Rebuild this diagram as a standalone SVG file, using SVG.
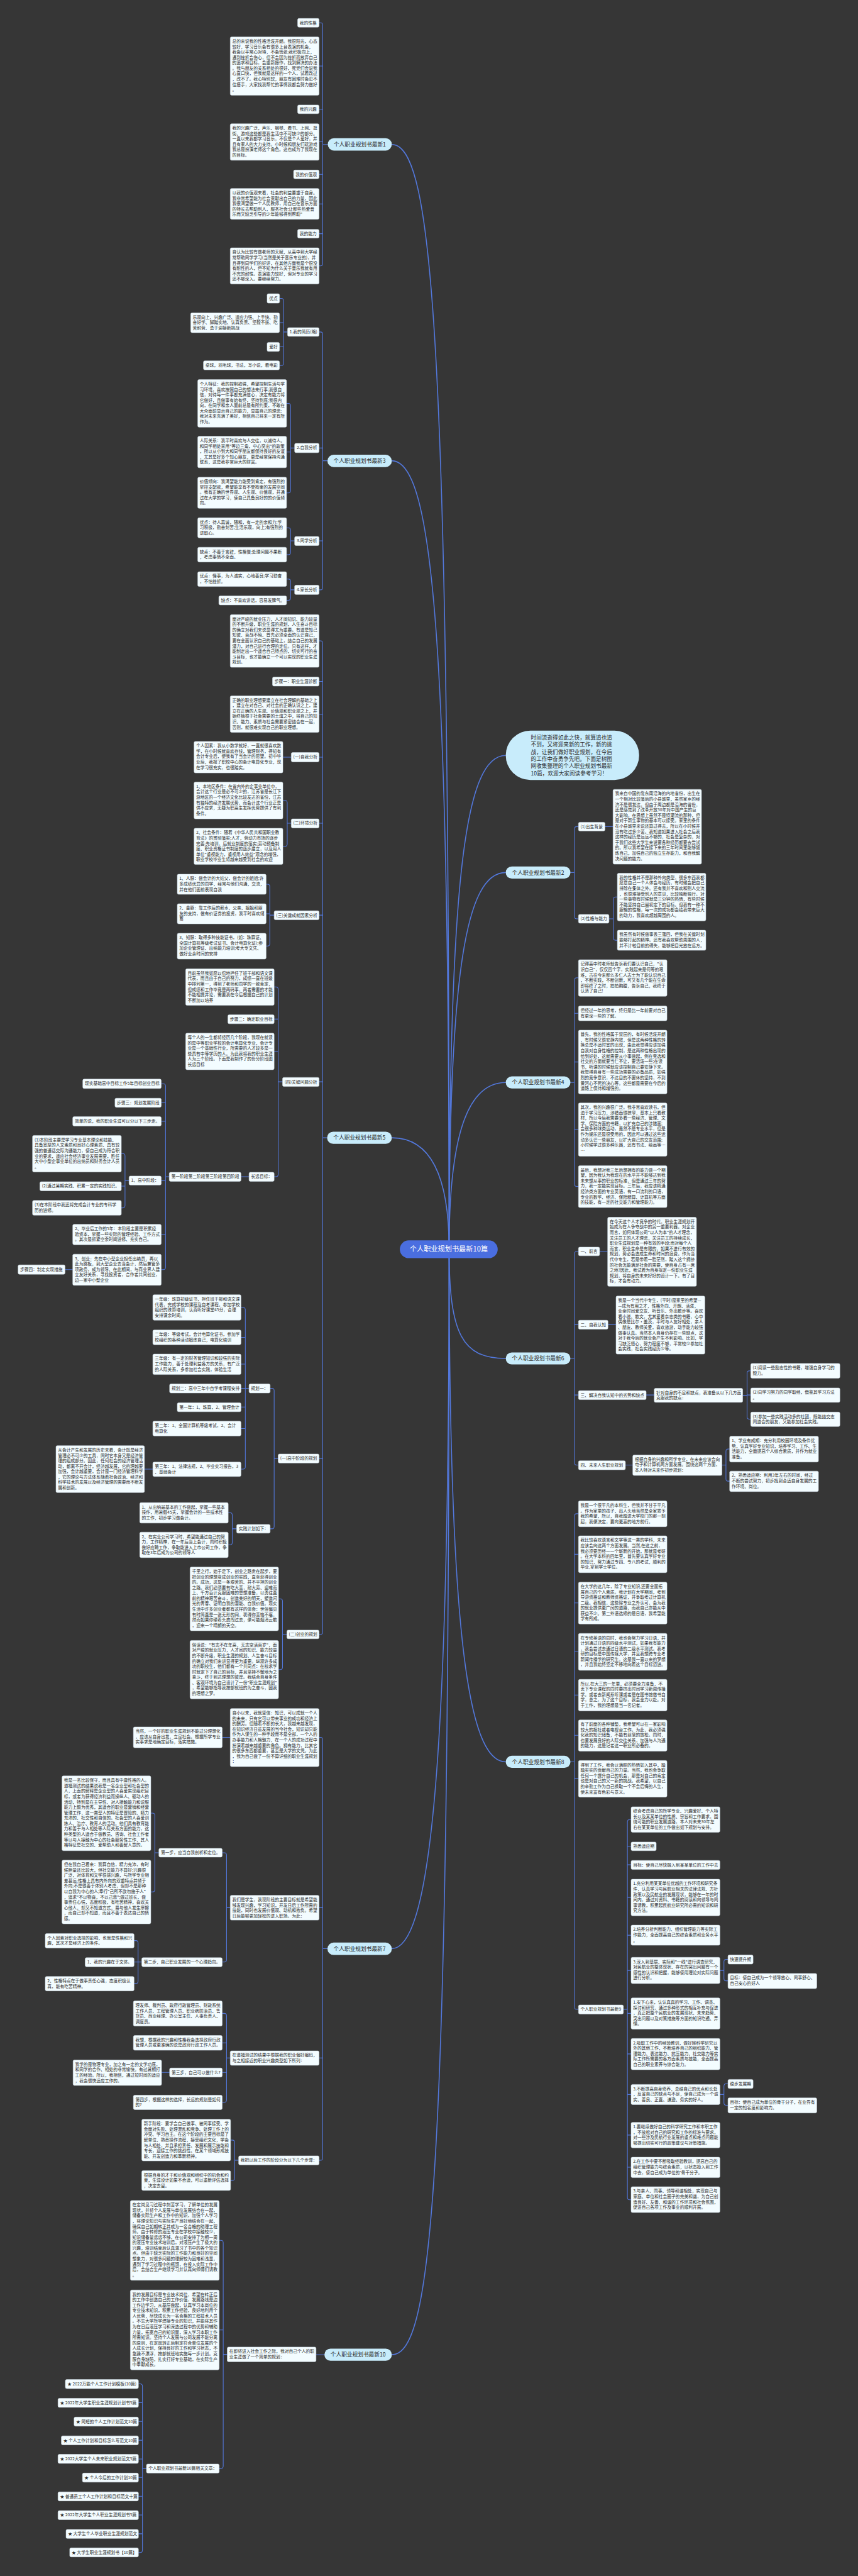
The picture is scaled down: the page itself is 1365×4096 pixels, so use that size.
<svg xmlns="http://www.w3.org/2000/svg" width="1365" height="4096" viewBox="0 0 1365 4096">
<style>
.t{font-family:"Noto Sans CJK SC","Noto Sans",sans-serif;font-size:12.7px;fill:#2b2b2b}
.b{fill:#f3fcff;stroke:#cfdde6;stroke-width:1}
.p{fill:#c8ecfb}
.pt{font-family:"Noto Sans CJK SC","Noto Sans",sans-serif;font-size:16.3px;fill:#2b2b2b;text-anchor:middle}
.c{fill:none;stroke:#5378dc;stroke-width:2}
.m{fill:none;stroke:#5378dc;stroke-width:3}
</style>
<rect x="0" y="0" width="1365" height="4096" fill="#363636"/>
<g transform="scale(0.533203)">
<g id="connectors">
<path class="m" d="M1340 3726C1340 1000 1290 431 1169 431"/>
<path class="m" d="M1340 3726C1340 1900 1290 1374 1169 1374"/>
<path class="m" d="M1340 3726C1340 3500 1280 3393 1169 3393"/>
<path class="m" d="M1340 3726C1340 5200 1290 5811 1169 5811"/>
<path class="m" d="M1340 3726C1340 6500 1290 7022 1169 7022"/>
<path class="m" d="M1340 3726C1340 2600 1390 2253 1509 2253"/>
<path class="m" d="M1340 3726C1340 2900 1390 2602 1509 2602"/>
<path class="m" d="M1340 3726C1340 3400 1390 3228 1509 3228"/>
<path class="m" d="M1340 3726C1340 3980 1380 4051 1509 4051"/>
<path class="m" d="M1340 3726C1340 4900 1400 5254 1509 5254"/>
<path class="c" d="M952 68H956Q963 68 963 75V786Q963 793 956 793H952M963 197H952M963 326H952M963 423H952M963 520H952M963 608H952M963 697H952M978 431H963"/>
<path class="c" d="M952 990H956Q963 990 963 997V1752Q963 1759 956 1759H952M963 1336H952M963 1613H952M977 1374H963"/>
<path class="c" d="M834 890H839Q846 890 846 897V1083Q846 1090 839 1090H834M846 962H834M846 1034H834M858 990H846"/>
<path class="c" d="M855 1203H860Q867 1203 867 1210V1463Q867 1470 860 1470H855M867 1348H855M879 1336H867"/>
<path class="c" d="M855 1574H860Q867 1574 867 1581V1647Q867 1654 860 1654H855M879 1613H867"/>
<path class="c" d="M855 1727H860Q867 1727 867 1734V1783Q867 1790 860 1790H855M879 1759H867"/>
<path class="c" d="M952 1911H956Q963 1911 963 1918V4867Q963 4874 956 4874H952M963 2032H952M963 2130H952M963 2258H952M963 2455H952M963 2729H952M963 3226H952M963 4349H952M976 3393H963"/>
<path class="c" d="M869 2258H844"/>
<path class="c" d="M844 2387H850Q857 2387 857 2394V2517Q857 2524 850 2524H844M869 2455H857"/>
<path class="c" d="M794 2637H798Q805 2637 805 2644V2814Q805 2821 798 2821H794M805 2725H794M818 2729H805"/>
<path class="c" d="M818 2943H823Q830 2943 830 2950V3502Q830 3509 823 3509H818M830 3039H818M830 3135H818M843 3226H830M743 3509H719"/>
<path class="c" d="M481 3232H487Q494 3232 494 3239V3779Q494 3786 487 3786H481M494 3288H481M494 3344H481M494 3520H481M494 3681H481M505 3509H494"/>
<path class="c" d="M362 3440H366Q373 3440 373 3447V3595Q373 3602 366 3602H362M373 3537H362M385 3520H373M217 3786H194"/>
<path class="c" d="M806 4140H811Q818 4140 818 4147V4552Q818 4559 811 4559H806M830 4349H818"/>
<path class="c" d="M719 3899H725Q732 3899 732 3906V4374Q732 4381 725 4381H719M732 3988H719M732 4068H719M732 4140H719M732 4196H719M732 4260H719M743 4140H732M456 4381H431"/>
<path class="c" d="M681 4511H686Q693 4511 693 4518V4600Q693 4607 686 4607H681M706 4559H693"/>
<path class="c" d="M831 4768H836Q843 4768 843 4775V4972Q843 4979 836 4979H831M856 4874H843"/>
<path class="c" d="M952 5181H956Q963 5181 963 5188V6435Q963 6442 956 6442H952M963 5689H952M963 6137H952M977 5811H963M687 5181H663"/>
<path class="c" d="M663 5525H669Q676 5525 676 5532V5844Q676 5851 669 5851H663M687 5689H676"/>
<path class="c" d="M450 5407H455Q462 5407 462 5414V5635Q462 5642 455 5642H450M474 5525H462"/>
<path class="c" d="M400 5787H405Q412 5787 412 5794V5908Q412 5915 405 5915H400M412 5851H400M423 5851H412"/>
<path class="c" d="M663 6004H669Q676 6004 676 6011V6262Q676 6269 669 6269H663M676 6092H663M676 6180H663M687 6137H676M506 6180H482"/>
<path class="c" d="M688 6382H693Q700 6382 700 6389V6495Q700 6502 693 6502H688M712 6442H700"/>
<path class="c" d="M968 7022H943"/>
<path class="c" d="M654 6681H659Q666 6681 666 6688V7354Q666 7361 659 7361H654M666 6948H654M678 7021H666"/>
<path class="c" d="M413 7109H418Q425 7109 425 7116V7605Q425 7612 418 7612H413M425 7165H413M425 7221H413M425 7277H413M425 7333H413M425 7388H413M425 7444H413M425 7500H413M425 7556H413M437 7361H425"/>
<path class="c" d="M1726 2465H1721Q1714 2465 1714 2472V2733Q1714 2740 1721 2740H1726M1702 2602H1714M1805 2465H1829"/>
<path class="c" d="M1842 2675H1837Q1830 2675 1830 2682V2797Q1830 2804 1837 2804H1842M1817 2740H1830"/>
<path class="c" d="M1726 2916H1721Q1714 2916 1714 2923V3531Q1714 3538 1721 3538H1726M1714 3022H1726M1714 3167H1726M1714 3368H1726M1702 3228H1714"/>
<path class="c" d="M1726 3732H1721Q1714 3732 1714 3739V4362Q1714 4369 1721 4369H1726M1714 3950H1726M1714 4160H1726M1702 4051H1714M1789 3732H1813M1814 3950H1838M1928 4160H1952M1866 4369H1888"/>
<path class="c" d="M2240 4088H2236Q2229 4088 2229 4095V4225Q2229 4232 2236 4232H2240M2229 4160H2240M2216 4161H2229"/>
<path class="c" d="M2177 4321H2173Q2166 4321 2166 4328V4410Q2166 4417 2173 4417H2177M2154 4369H2166"/>
<path class="c" d="M1726 4514H1721Q1714 4514 1714 4521V5985Q1714 5992 1721 5992H1726M1714 4635H1726M1714 4780H1726M1714 4926H1726M1714 5055H1726M1714 5175H1726M1714 5304H1726M1702 5254H1714"/>
<path class="c" d="M1883 5426H1879Q1872 5426 1872 5433V6553Q1872 6560 1879 6560H1883M1872 5506H1883M1872 5561H1883M1872 5658H1883M1872 5771H1883M1872 5876H1883M1872 6004H1883M1872 6125H1883M1872 6246H1883M1872 6367H1883M1872 6463H1883M1860 5992H1872"/>
<path class="c" d="M2172 5843H2167Q2160 5843 2160 5850V5900Q2160 5907 2167 5907H2172M2148 5876H2160"/>
<path class="c" d="M2172 6214H2167Q2160 6214 2160 6221V6271Q2160 6278 2167 6278H2172M2148 6246H2160"/>
</g>

<g id="root"><rect x="1193" y="3699" width="292" height="53" rx="26.5" fill="#4a6ee0"/><text x="1339" y="3733" font-family="Noto Sans CJK SC, Noto Sans, sans-serif" font-size="21" fill="#ffffff" text-anchor="middle">个人职业规划书最新10篇</text></g>

<g id="intro"><rect class="p" x="1509" y="2179" width="398" height="147" rx="73.5"/><text font-family="Noto Sans CJK SC, Noto Sans, sans-serif" font-size="16.2" fill="#2b2b2b" x="1584" y="2205"><tspan x="1584">时间流逝得如此之快，就算追也追</tspan><tspan x="1584" dy="21.4">不到，又将迎来新的工作，新的挑</tspan><tspan x="1584" dy="21.4">战，让我们做好职业规划，在今后</tspan><tspan x="1584" dy="21.4">的工作中奋勇争先吧。下面是树图</tspan><tspan x="1584" dy="21.4">网收集整理的个人职业规划书最新</tspan><tspan x="1584" dy="21.4">10篇，欢迎大家阅读参考学习！</tspan></text></g>

<g id="n1"><rect class="p" x="978" y="412" width="191" height="37" rx="18.5"/><text class="pt" x="1073.5" y="436.5">个人职业规划书最新1</text></g>
<g id="n3"><rect class="p" x="977" y="1356" width="192" height="37" rx="18.5"/><text class="pt" x="1073" y="1380">个人职业规划书最新3</text></g>
<g id="n5"><rect class="p" x="976" y="3375" width="193" height="36" rx="18"/><text class="pt" x="1072.5" y="3399">个人职业规划书最新5</text></g>
<g id="n7"><rect class="p" x="977" y="5793" width="192" height="37" rx="18.5"/><text class="pt" x="1073" y="5817">个人职业规划书最新7</text></g>
<g id="n10"><rect class="p" x="968" y="7004" width="201" height="36" rx="18"/><text class="pt" x="1068.5" y="7028">个人职业规划书最新10</text></g>
<g id="n2"><rect class="p" x="1509" y="2584" width="193" height="36" rx="18"/><text class="pt" x="1605.5" y="2608">个人职业规划书最新2</text></g>
<g id="n4"><rect class="p" x="1509" y="3210" width="193" height="36" rx="18"/><text class="pt" x="1605.5" y="3234">个人职业规划书最新4</text></g>
<g id="n6"><rect class="p" x="1509" y="4033" width="193" height="36" rx="18"/><text class="pt" x="1605.5" y="4057">个人职业规划书最新6</text></g>
<g id="n8"><rect class="p" x="1509" y="5236" width="193" height="36" rx="18"/><text class="pt" x="1605.5" y="5260">个人职业规划书最新8</text></g>

<g id="n1-1"><rect class="b" x="888" y="55" width="64" height="26" rx="4"/><text class="t" x="894" y="73">我的性格</text></g>
<g id="n1-2"><rect class="b" x="687" y="110" width="265" height="174" rx="4"/><text class="t" x="693" y="127.5"><tspan x="693">总的来说我的性格活泼开朗。我很阳光，心态</tspan><tspan x="693" dy="16.1">较好，学习音乐会有很多上台表演的机会，</tspan><tspan x="693" dy="16.1">我会以平常心对待，不会慌张;我积极向上，</tspan><tspan x="693" dy="16.1">遇到挫折会伤心，但不会因为挫折而放弃自己</tspan><tspan x="693" dy="16.1">的追求和目标，会重新振作，找到解决的办法</tspan><tspan x="693" dy="16.1">。我与朋友的关系相处的很好，死党们会说我</tspan><tspan x="693" dy="16.1">心直口快，但我就是这样的一个人，试着改过</tspan><tspan x="693" dy="16.1">，改不了。我心特别软，朋友有困难时会忍不</tspan><tspan x="693" dy="16.1">住搭手，大家找我帮忙的事情我都会努力做好</tspan><tspan x="693" dy="16.1">。</tspan></text></g>
<g id="n1-3"><rect class="b" x="888" y="313" width="64" height="26" rx="4"/><text class="t" x="894" y="330.5">我的兴趣</text></g>
<g id="n1-4"><rect class="b" x="687" y="369" width="265" height="109" rx="4"/><text class="t" x="693" y="386.5"><tspan x="693">我的兴趣广泛，声乐、钢琴、看书、上网、逛</tspan><tspan x="693" dy="16.1">街、游戏这些都是我生活中不可缺少的部分。</tspan><tspan x="693" dy="16.1">一直以来我都学习音乐，不仅是个人爱好，并</tspan><tspan x="693" dy="16.1">且有家人的大力支持。小时候和朋友们玩游戏</tspan><tspan x="693" dy="16.1">我总是扮演老师这个角色。这也成为了我现在</tspan><tspan x="693" dy="16.1">的目标。</tspan></text></g>
<g id="n1-5"><rect class="b" x="876" y="507" width="76" height="26" rx="4"/><text class="t" x="882" y="524.5">我的价值观</text></g>
<g id="n1-6"><rect class="b" x="687" y="562" width="265" height="92" rx="4"/><text class="t" x="693" y="579.5"><tspan x="693">以我的价值观来看，社会的利益要重于自身。</tspan><tspan x="693" dy="16.1">我非常希望能为社会贡献出自己的力量，因此</tspan><tspan x="693" dy="16.1">我很渴望做一个人民教师，用自己在音乐方面</tspan><tspan x="693" dy="16.1">的特长去帮助别人，服务社会;让那些热爱音</tspan><tspan x="693" dy="16.1">乐而又缺乏引导的少年能够得到帮助"</tspan></text></g>
<g id="n1-7"><rect class="b" x="888" y="684" width="64" height="26" rx="4"/><text class="t" x="894" y="701.5">我的能力</text></g>
<g id="n1-8"><rect class="b" x="687" y="739" width="265" height="108" rx="4"/><text class="t" x="693" y="756.5"><tspan x="693">自认为比较有做老师的天赋，从高中到大学经</tspan><tspan x="693" dy="16.1">常帮助同学学习(当然是关于音乐专业的)，并</tspan><tspan x="693" dy="16.1">且得到同学们的好评，在其他方面我是个很没</tspan><tspan x="693" dy="16.1">有耐性的人，但不知为什么关于音乐我就有用</tspan><tspan x="693" dy="16.1">不完的耐性。表演能力较好，但对专业的学习</tspan><tspan x="693" dy="16.1">还不够深入。要继续努力。</tspan></text></g>

<g id="n3-1"><rect class="b" x="858" y="977" width="94" height="26" rx="4"/><text class="t" x="864" y="994.5">1.我的简历(略)</text></g>
<g id="n3-1-1"><rect class="b" x="797" y="876" width="37" height="28" rx="4"/><text class="t" x="803" y="894">优点</text></g>
<g id="n3-1-2"><rect class="b" x="569" y="933" width="265" height="59" rx="4"/><text class="t" x="575" y="950.5"><tspan x="575">乐观向上、兴趣广泛、适应力强、上手快、勤</tspan><tspan x="575" dy="16.1">奋好学、脚踏实地、认真负责、坚毅不拔、吃</tspan><tspan x="575" dy="16.1">苦耐劳、勇于迎接新挑战</tspan></text></g>
<g id="n3-1-3"><rect class="b" x="797" y="1021" width="37" height="27" rx="4"/><text class="t" x="803" y="1038.5">爱好</text></g>
<g id="n3-1-4"><rect class="b" x="607" y="1076" width="227" height="27" rx="4"/><text class="t" x="613" y="1093.5">桌球，羽毛球，书法，写小说，看电影</text></g>
<g id="n3-2"><rect class="b" x="879" y="1322" width="73" height="28" rx="4"/><text class="t" x="885" y="1340">2.自我分析</text></g>
<g id="n3-2-1"><rect class="b" x="590" y="1132" width="265" height="142" rx="4"/><text class="t" x="596" y="1149.5"><tspan x="596">个人特征：我的控制欲强，希望控制生活与学</tspan><tspan x="596" dy="16.1">习环境，喜欢按照自己的想法来行事;我很自</tspan><tspan x="596" dy="16.1">信，对待每一件事都充满信心，决定有能力将</tspan><tspan x="596" dy="16.1">它做好，且做事有始有终，坚持到底;我很内</tspan><tspan x="596" dy="16.1">向，在同学和亲人面前总是有所约束，不敢在</tspan><tspan x="596" dy="16.1">大众面前显示自己的能力，显露自己的理念;</tspan><tspan x="596" dy="16.1">我对未来充满了美好，相信自己将来一定有所</tspan><tspan x="596" dy="16.1">作为。</tspan></text></g>
<g id="n3-2-2"><rect class="b" x="590" y="1301" width="265" height="94" rx="4"/><text class="t" x="596" y="1318.5"><tspan x="596">人际关系：我平时喜欢与人交往，以诚待人。</tspan><tspan x="596" dy="16.1">和同学相处采用"等边三角，中心突出"的政策</tspan><tspan x="596" dy="16.1">，所以从小到大和同学朋友都保持良好的友谊</tspan><tspan x="596" dy="16.1">，尤其是好多个知心朋友，更是经常保持沟通</tspan><tspan x="596" dy="16.1">联系，这是我非常巨大的财富。</tspan></text></g>
<g id="n3-2-3"><rect class="b" x="590" y="1423" width="265" height="93" rx="4"/><text class="t" x="596" y="1440.5"><tspan x="596">价值倾向：我渴望能力能受到肯定，有强烈的</tspan><tspan x="596" dy="16.1">掌控支配欲，希望能享有不受拘束的发展空间</tspan><tspan x="596" dy="16.1">。我有正确的世界观、人生观、价值观，并通</tspan><tspan x="596" dy="16.1">过在大学的学习，使自己具备良好的的价值倾</tspan><tspan x="596" dy="16.1">向。</tspan></text></g>
<g id="n3-3"><rect class="b" x="879" y="1600" width="73" height="27" rx="4"/><text class="t" x="885" y="1617.5">3.同学分析</text></g>
<g id="n3-3-1"><rect class="b" x="590" y="1544" width="265" height="60" rx="4"/><text class="t" x="596" y="1561.5"><tspan x="596">优点：待人真诚，随和，有一定的亲和力;学</tspan><tspan x="596" dy="16.1">习积极，勤奋刻苦;生活乐观，向上;有强烈的</tspan><tspan x="596" dy="16.1">进取心。</tspan></text></g>
<g id="n3-3-2"><rect class="b" x="590" y="1632" width="265" height="44" rx="4"/><text class="t" x="596" y="1649.5"><tspan x="596">缺点：不善于言辞，性格慢;处理问题不果断</tspan><tspan x="596" dy="16.1">，考虑事情不全面。</tspan></text></g>
<g id="n3-4"><rect class="b" x="879" y="1745" width="73" height="28" rx="4"/><text class="t" x="885" y="1762.5">4.家长分析</text></g>
<g id="n3-4-1"><rect class="b" x="590" y="1705" width="265" height="44" rx="4"/><text class="t" x="596" y="1722.5"><tspan x="596">优点：懂事，为人诚实，心地善良;学习勤奋</tspan><tspan x="596" dy="16.1">，不怕挫折。</tspan></text></g>
<g id="n3-4-2"><rect class="b" x="653" y="1777" width="202" height="27" rx="4"/><text class="t" x="659" y="1794.5">缺点：不喜欢讲话，容易发脾气。</text></g>

<g id="n5-1"><rect class="b" x="687" y="1833" width="265" height="157" rx="4"/><text class="t" x="693" y="1850.5"><tspan x="693">面对严峻的就业压力，人才间知识、能力较量</tspan><tspan x="693" dy="16.1">的不断升级，职业生涯的规划，人生奋斗目标</tspan><tspan x="693" dy="16.1">的确立对我们来说显得尤为重要。有道是知己</tspan><tspan x="693" dy="16.1">知彼、百战不殆、首先必须全面的认识自己，</tspan><tspan x="693" dy="16.1">要在全面认识自己的基础上，结合自己的发展</tspan><tspan x="693" dy="16.1">潜力，对自己进行合理的定位。只有这样，才</tspan><tspan x="693" dy="16.1">能制定出一个适合自己特点的，切实可行的奋</tspan><tspan x="693" dy="16.1">斗目标，也才能确立一个可以实现的职业生涯</tspan><tspan x="693" dy="16.1">规划。</tspan></text></g>
<g id="n5-2"><rect class="b" x="813" y="2019" width="139" height="27" rx="4"/><text class="t" x="819" y="2036.5">步骤一：职业生涯诊断</text></g>
<g id="n5-3"><rect class="b" x="687" y="2075" width="265" height="109" rx="4"/><text class="t" x="693" y="2092.5"><tspan x="693">正确的职业理想要建立在社会理解的基础之上</tspan><tspan x="693" dy="16.1">，建立在对自己、对社会的正确认识之上，建</tspan><tspan x="693" dy="16.1">立在正确的人生观、价值观和职业观之上，并</tspan><tspan x="693" dy="16.1">始终植根于社会需要的土壤之中，将自己的知</tspan><tspan x="693" dy="16.1">识、能力、素质与社会需要紧密结合在一起，</tspan><tspan x="693" dy="16.1">否则，就很难实现自己的职业理想。</tspan></text></g>
<g id="n5-4"><rect class="b" x="869" y="2244" width="83" height="28" rx="4"/><text class="t" x="875" y="2261.5">(一)自我分析</text></g>
<g id="n5-4-1"><rect class="b" x="579" y="2211" width="265" height="94" rx="4"/><text class="t" x="585" y="2228.5"><tspan x="585">个人因素：我从小数学就好，一直就很喜欢数</tspan><tspan x="585" dy="16.1">学，在小时候就喜欢存钱，管理财务，得知有</tspan><tspan x="585" dy="16.1">会计专业后，使我有了当会计的愿望。初中毕</tspan><tspan x="585" dy="16.1">业后，我报了职校中心的会计电算化专业，现</tspan><tspan x="585" dy="16.1">在学习很充实，也很踏实。</tspan></text></g>
<g id="n5-5"><rect class="b" x="869" y="2442" width="83" height="27" rx="4"/><text class="t" x="875" y="2459.5">(二)环境分析</text></g>
<g id="n5-5-1"><rect class="b" x="579" y="2332" width="265" height="110" rx="4"/><text class="t" x="585" y="2349.5"><tspan x="585">1、本地区条件：在省内外的企事业单位中，</tspan><tspan x="585" dy="16.1">会计这个行业是必不可少的，江苏省是长江下</tspan><tspan x="585" dy="16.1">游地区的一个经济文化比较发达的省份，江苏</tspan><tspan x="585" dy="16.1">有独特的经济发展优势，而会计这个行业正是</tspan><tspan x="585" dy="16.1">供不应求，无疑为职高生发挥优势提供了有利</tspan><tspan x="585" dy="16.1">条件。</tspan></text></g>
<g id="n5-5-2"><rect class="b" x="579" y="2470" width="265" height="108" rx="4"/><text class="t" x="585" y="2487.5"><tspan x="585">2、社会条件：随着《中华人民共和国职业教</tspan><tspan x="585" dy="16.1">育法》的贯彻落实;人才，劳动力市场的逐步</tspan><tspan x="585" dy="16.1">完善;先培训，后就业制度的落实;劳动预备制</tspan><tspan x="585" dy="16.1">度、职业资格证书制度的逐步建立，以及用人</tspan><tspan x="585" dy="16.1">单位"重视能力，重视用人效益"观念的增强，</tspan><tspan x="585" dy="16.1">职业学校毕业生将越来越受到社会的欢迎</tspan></text></g>
<g id="n5-6"><rect class="b" x="818" y="2716" width="134" height="27" rx="4"/><text class="t" x="824" y="2733.5">(三)关键成就因素分析</text></g>
<g id="n5-6-1"><rect class="b" x="529" y="2607" width="265" height="60" rx="4"/><text class="t" x="535" y="2624.5"><tspan x="535">1、人脉：做会计的大姑父，做会计的姐姐;许</tspan><tspan x="535" dy="16.1">多成绩优异的同学，经常与他们沟通，交流，</tspan><tspan x="535" dy="16.1">并在他们面前表现自我</tspan></text></g>
<g id="n5-6-2"><rect class="b" x="529" y="2695" width="265" height="60" rx="4"/><text class="t" x="535" y="2712.5"><tspan x="535">2、金脉：靠工作后的薪水，父亲、姐姐和朋</tspan><tspan x="535" dy="16.1">友的支持，做有价证券的投资，我平时喜欢储</tspan><tspan x="535" dy="16.1">蓄</tspan></text></g>
<g id="n5-6-3"><rect class="b" x="529" y="2783" width="265" height="77" rx="4"/><text class="t" x="535" y="2800.5"><tspan x="535">3、知脉：取得多种技能证书，(如：珠算证、</tspan><tspan x="535" dy="16.1">全国计算机等级考试证书、会计电算化证);参</tspan><tspan x="535" dy="16.1">加企业管理证、出纳能力培训;考大专文凭、</tspan><tspan x="535" dy="16.1">做好业余时间的安排</tspan></text></g>
<g id="n5-7"><rect class="b" x="843" y="3213" width="109" height="27" rx="4"/><text class="t" x="849" y="3230.5">(四)关键问题分析</text></g>
<g id="n5-7-1"><rect class="b" x="554" y="2889" width="264" height="109" rx="4"/><text class="t" x="560" y="2906.5"><tspan x="560">目前虽然我如愿以偿地担任了班干部和语文课</tspan><tspan x="560" dy="16.1">代表，而且由于自己的努力，成绩一直在班级</tspan><tspan x="560" dy="16.1">中排列第一，得到了老师和同学的一致肯定，</tspan><tspan x="560" dy="16.1">但成绩和工作毕竟是两码事，两者需要的才能</tspan><tspan x="560" dy="16.1">不能相提并论，需要我在今后根据自己的计划</tspan><tspan x="560" dy="16.1">不断加以培养</tspan></text></g>
<g id="n5-7-2"><rect class="b" x="680" y="3026" width="138" height="27" rx="4"/><text class="t" x="686" y="3043.5">步骤二：确定职业目标</text></g>
<g id="n5-7-3"><rect class="b" x="554" y="3081" width="264" height="109" rx="4"/><text class="t" x="560" y="3098.5"><tspan x="560">每个人的一生都将经历几个阶段，我现在就读</tspan><tspan x="560" dy="16.1">的是中等职业学校的会计电算化专业，会计专</tspan><tspan x="560" dy="16.1">业是一个基础性行业，所需要的人才较多是一</tspan><tspan x="560" dy="16.1">些具有中等学历的人。为此我将我的职业生涯</tspan><tspan x="560" dy="16.1">人为三个阶段。下面是我制作了的份分阶段图</tspan><tspan x="560" dy="16.1">长远目标</tspan></text></g>
<g id="n5-7-4"><rect class="b" x="743" y="3496" width="75" height="27" rx="4"/><text class="t" x="749" y="3513.5">长远目标：</text></g>
<g id="n5-7-5"><rect class="b" x="505" y="3496" width="214" height="27" rx="4"/><text class="t" x="511" y="3513.5">第一阶段第二阶段第三阶段第四阶段</text></g>
<g id="n5-7-6"><rect class="b" x="247" y="3218" width="234" height="28" rx="4"/><text class="t" x="253" y="3235.5">现实基础高中目标工作5年目标创业目标</text></g>
<g id="n5-7-7"><rect class="b" x="343" y="3275" width="138" height="27" rx="4"/><text class="t" x="349" y="3292.5">步骤三：规划发展阶段</text></g>
<g id="n5-7-8"><rect class="b" x="217" y="3330" width="264" height="28" rx="4"/><text class="t" x="223" y="3347.5">简单的说，我的职业生涯可以分以下三步走。</text></g>
<g id="n5-7-9"><rect class="b" x="385" y="3507" width="96" height="27" rx="4"/><text class="t" x="391" y="3524.5">1、高中阶段：</text></g>
<g id="n5-7-10"><rect class="b" x="97" y="3386" width="265" height="109" rx="4"/><text class="t" x="103" y="3403.5"><tspan x="103">(1)本阶段主要是学习专业基本理论和技能、</tspan><tspan x="103" dy="16.1">具备宽厚的人文素质和良好心理素质、具有较</tspan><tspan x="103" dy="16.1">强的普通话交际沟通能力，使自己成为符合职</tspan><tspan x="103" dy="16.1">业的要求，适应社会经济事业发展需要，胜任</tspan><tspan x="103" dy="16.1">大中小型企事业单位的出纳员和财务会计人员</tspan><tspan x="103" dy="16.1">。</tspan></text></g>
<g id="n5-7-11"><rect class="b" x="119" y="3524" width="243" height="27" rx="4"/><text class="t" x="125" y="3541.5">(2)通过暑期实践、积累一定的实践知识。</text></g>
<g id="n5-7-12"><rect class="b" x="97" y="3580" width="265" height="44" rx="4"/><text class="t" x="103" y="3597.5"><tspan x="103">(3)在本阶段中我还将完成会计专业的专科学</tspan><tspan x="103" dy="16.1">历的进修。</tspan></text></g>
<g id="n5-7-13"><rect class="b" x="217" y="3651" width="264" height="61" rx="4"/><text class="t" x="223" y="3668.5"><tspan x="223">2、毕业后工作的5年：本阶段主要是积累经</tspan><tspan x="223" dy="16.1">验资本，掌握一些实际的管理经验、工作方式</tspan><tspan x="223" dy="16.1">。其次是抓紧空余时间进修、充实自己。</tspan></text></g>
<g id="n5-7-14"><rect class="b" x="217" y="3740" width="264" height="93" rx="4"/><text class="t" x="223" y="3757.5"><tspan x="223">3、创业：先在中小型企业担任出纳员，再以</tspan><tspan x="223" dy="16.1">此为跳板，到大型企业去当会计，然后兼管多</tspan><tspan x="223" dy="16.1">项政务，成为领导、在此期间，与商业界人建</tspan><tspan x="223" dy="16.1">立友好关系，寻找投资者，合作者共同创业，</tspan><tspan x="223" dy="16.1">边一家中小型企业</tspan></text></g>
<g id="n5-7-15"><rect class="b" x="54" y="3772" width="140" height="28" rx="4"/><text class="t" x="60" y="3789.5">步骤四：制定实现措施</text></g>
<g id="n5-8"><rect class="b" x="830" y="4336" width="122" height="27" rx="4"/><text class="t" x="836" y="4353.5">(一)高中阶段的规划</text></g>
<g id="n5-8-1"><rect class="b" x="743" y="4127" width="63" height="27" rx="4"/><text class="t" x="749" y="4144.5">规划一：</text></g>
<g id="n5-8-2"><rect class="b" x="456" y="3861" width="263" height="76" rx="4"/><text class="t" x="462" y="3878.5"><tspan x="462">一年级：珠算初级证书，担任班干部和语文课</tspan><tspan x="462" dy="16.1">代表，完成学校的课程及自考课程。参加学校</tspan><tspan x="462" dy="16.1">组织的珠算培训，认真听好课堂45分，合理</tspan><tspan x="462" dy="16.1">安排课余时间。</tspan></text></g>
<g id="n5-8-3"><rect class="b" x="456" y="3966" width="263" height="44" rx="4"/><text class="t" x="462" y="3983.5"><tspan x="462">二年级：等级考试，会计电算化证书，参加学</tspan><tspan x="462" dy="16.1">校组织的各种活动锻炼自己，电算化培训</tspan></text></g>
<g id="n5-8-4"><rect class="b" x="456" y="4038" width="263" height="61" rx="4"/><text class="t" x="462" y="4055.5"><tspan x="462">三年级：有一定的财务管理知识和较强的实际</tspan><tspan x="462" dy="16.1">工作能力，善于处理利益各方的关系，有广泛</tspan><tspan x="462" dy="16.1">的人际关系，多参加社会实践，体验生活</tspan></text></g>
<g id="n5-8-5"><rect class="b" x="506" y="4127" width="213" height="27" rx="4"/><text class="t" x="512" y="4144.5">规划二：高中三年中自学考课程安排</text></g>
<g id="n5-8-6"><rect class="b" x="529" y="4183" width="190" height="27" rx="4"/><text class="t" x="535" y="4200.5">第一年：1、珠算，2、管理会计</text></g>
<g id="n5-8-7"><rect class="b" x="456" y="4238" width="263" height="44" rx="4"/><text class="t" x="462" y="4255.5"><tspan x="462">第二年：1、全国计算机等级考试，2、会计</tspan><tspan x="462" dy="16.1">电算化</tspan></text></g>
<g id="n5-8-8"><rect class="b" x="456" y="4360" width="263" height="43" rx="4"/><text class="t" x="462" y="4377.5"><tspan x="462">第三年：1、法律法规，2、毕业实习报告，3</tspan><tspan x="462" dy="16.1">、基础会计</tspan></text></g>
<g id="n5-8-9"><rect class="b" x="167" y="4311" width="264" height="140" rx="4"/><text class="t" x="173" y="4328.5"><tspan x="173">从会计产生和发展的历史来看，会计既是经济</tspan><tspan x="173" dy="16.1">管理必不可少的工具，同时它本身又是经济管</tspan><tspan x="173" dy="16.1">理的组成部分。因此，任何社会的经济管理活</tspan><tspan x="173" dy="16.1">动，都离不开会计，经济越发展，它的理越要</tspan><tspan x="173" dy="16.1">加强，会计越重要，会计是一门经济管理科学</tspan><tspan x="173" dy="16.1">，它的理论与方法体系随着社会政治、经济和</tspan><tspan x="173" dy="16.1">科学技术的发展以及经济管理的需要而不断发</tspan><tspan x="173" dy="16.1">展和创新。</tspan></text></g>
<g id="n5-8-10"><rect class="b" x="706" y="4546" width="100" height="26" rx="4"/><text class="t" x="712" y="4563.5">实践计划如下：</text></g>
<g id="n5-8-11"><rect class="b" x="417" y="4481" width="264" height="61" rx="4"/><text class="t" x="423" y="4498.5"><tspan x="423">1、从出纳最基本的工作做起，掌握一些基本</tspan><tspan x="423" dy="16.1">操作，用暑假45天，掌握会计的一些技术性</tspan><tspan x="423" dy="16.1">的工作，初步学习做会计。</tspan></text></g>
<g id="n5-8-12"><rect class="b" x="417" y="4569" width="264" height="76" rx="4"/><text class="t" x="423" y="4586.5"><tspan x="423">2、在实业公司学习时，希望能通过自己的努</tspan><tspan x="423" dy="16.1">力，工作精神，在一年后当上会计，同时积极</tspan><tspan x="423" dy="16.1">做好应聘工作，争取能进入上市公司工作，争</tspan><tspan x="423" dy="16.1">取在3年后成为公司的领导人</tspan></text></g>
<g id="n5-9"><rect class="b" x="856" y="4861" width="96" height="26" rx="4"/><text class="t" x="862" y="4878.5">(二)创业的规划</text></g>
<g id="n5-9-1"><rect class="b" x="567" y="4673" width="264" height="190" rx="4"/><text class="t" x="573" y="4690.5"><tspan x="573">千里之行，始于足下，创业之路贵在起步，要</tspan><tspan x="573" dy="16.1">把创业的理想变成创业的实践，直至获得创业</tspan><tspan x="573" dy="16.1">的。成功，这是一条艰苦的、并不平坦的创业</tspan><tspan x="573" dy="16.1">之路。我们必须要有吃大苦，耐大劳、迎难而</tspan><tspan x="573" dy="16.1">上、千方百计克服困难的思想准备，以勇往直</tspan><tspan x="573" dy="16.1">前的精神艰苦奋斗，创造美好的明天，塑造闪</tspan><tspan x="573" dy="16.1">光的青春、证明自我的潜能、自我价值。现实</tspan><tspan x="573" dy="16.1">生活中许多创业者都有这样的体会：世俗偏见</tspan><tspan x="573" dy="16.1">有时简直是一张无形的网，裹得你苦恼不堪，</tspan><tspan x="573" dy="16.1">然而如果你硬着头皮闯过去，便可能烟消云散</tspan><tspan x="573" dy="16.1">，迎来一个晴朗的天空。</tspan></text></g>
<g id="n5-9-2"><rect class="b" x="567" y="4892" width="264" height="174" rx="4"/><text class="t" x="573" y="4909.5"><tspan x="573">俗话说："有志不在年高，无志空活百岁"，面</tspan><tspan x="573" dy="16.1">对严峻的就业压力，人才间的知识、能力较量</tspan><tspan x="573" dy="16.1">的不断升级，职业生涯的规划、人生奋斗目标</tspan><tspan x="573" dy="16.1">的确立对我们来讲显得更为重要。纵观许多成</tspan><tspan x="573" dy="16.1">功的职校生，他们都有一个共同点：在校求学</tspan><tspan x="573" dy="16.1">时就定下了自己的目标，并且坚持不懈地为之</tspan><tspan x="573" dy="16.1">奋斗，终于到达理想的彼岸。我结合自身条件</tspan><tspan x="573" dy="16.1">、客观环境为自己设计了一份"职业生涯规划"</tspan><tspan x="573" dy="16.1">，希望能够指导我按部就班的为之奋斗，圆我</tspan><tspan x="573" dy="16.1">的理想之梦。</tspan></text></g>

<g id="n7-1"><rect class="b" x="687" y="5095" width="265" height="173" rx="4"/><text class="t" x="693" y="5112.5"><tspan x="693">自小以来，我就坚信：知识，可以成就一个人</tspan><tspan x="693" dy="16.1">的未来，只有它可以带来事业的成功和经济上</tspan><tspan x="693" dy="16.1">的酬劳。但随着不断的长大，我越来越发现，</tspan><tspan x="693" dy="16.1">在知识经济日益发展的当今社会，知识却只能</tspan><tspan x="693" dy="16.1">作为人谋生的一种手段而不是全部，一个人的</tspan><tspan x="693" dy="16.1">办事能力和人格魅力，在一个人的成功过程中</tspan><tspan x="693" dy="16.1">扮演着越来越重要的角色。拥有能力，比其它</tspan><tspan x="693" dy="16.1">的很多东西都重要，甚至是大学的文凭。为此</tspan><tspan x="693" dy="16.1">，我为自己做了一份不算详细的职业生涯规划</tspan><tspan x="693" dy="16.1">：</tspan></text></g>
<g id="n7-1-1"><rect class="b" x="398" y="5150" width="265" height="62" rx="4"/><text class="t" x="404" y="5167.5"><tspan x="404">当然，一个好的职业生涯规划不能过分理想化</tspan><tspan x="404" dy="16.1">，应该从自身出发，立足社会。根据所学专业</tspan><tspan x="404" dy="16.1">实事求是地确定目标，落实措施。</tspan></text></g>
<g id="n7-2"><rect class="b" x="687" y="5652" width="265" height="74" rx="4"/><text class="t" x="693" y="5669.5"><tspan x="693">我们是学生，我现阶段的主要目标就是希望能</tspan><tspan x="693" dy="16.1">够发现兴趣，学习知识，开发日后工作所需的</tspan><tspan x="693" dy="16.1">技能，同时也发展价值观、动机和抱负。希望</tspan><tspan x="693" dy="16.1">日后能够更加轻松的进入职场。为此：</tspan></text></g>
<g id="n7-2-1"><rect class="b" x="474" y="5512" width="189" height="26" rx="4"/><text class="t" x="480" y="5529.5">第一步，应当自我剖析和定位。</text></g>
<g id="n7-2-1-1"><rect class="b" x="185" y="5296" width="265" height="223" rx="4"/><text class="t" x="191" y="5313.5"><tspan x="191">我是一名比较保守，而且具有中庸性格的人。</tspan><tspan x="191" dy="16.1">道福测试的结果说我是一名企业型和社会型的</tspan><tspan x="191" dy="16.1">人，上面的解释是企业型的人喜爱实现组织目</tspan><tspan x="191" dy="16.1">标，或者为获得经济利益而操纵人、驱动人的</tspan><tspan x="191" dy="16.1">活动，特别是在主导性、对人接触能力和说服</tspan><tspan x="191" dy="16.1">能力上颇为优秀，其适合的职业是营销和经营</tspan><tspan x="191" dy="16.1">管理工作，这一类型人的特征是冒险的、精力</tspan><tspan x="191" dy="16.1">充沛的、社交性和自信的。社会型的人喜爱训</tspan><tspan x="191" dy="16.1">练人、治疗、教育人的活动。他们具有教育能</tspan><tspan x="191" dy="16.1">力和善于与人相处等人际关系方面的能力，这</tspan><tspan x="191" dy="16.1">种类型的人适合于做教员、咨询、社会工作者</tspan><tspan x="191" dy="16.1">等以与人接触为中心的社会服务性工作，其人</tspan><tspan x="191" dy="16.1">格特征是社交的、爱帮助人和善解人意的。</tspan></text></g>
<g id="n7-2-1-2"><rect class="b" x="185" y="5547" width="265" height="190" rx="4"/><text class="t" x="191" y="5564.5"><tspan x="191">但在我自己看来：我算自信，精力充沛，有时</tspan><tspan x="191" dy="16.1">候胆量还比较大，但社交能力不算好;兴趣很</tspan><tspan x="191" dy="16.1">广泛，对体育和文学很感兴趣，与所学专业相</tspan><tspan x="191" dy="16.1">差甚远;性格上具有内外向的双重特点并倾于</tspan><tspan x="191" dy="16.1">外向;不是很善于体别人考虑，但却不是那种</tspan><tspan x="191" dy="16.1">以自我为中心的人;奉行"己所不欲勿施于人"</tspan><tspan x="191" dy="16.1">，追求"不以物喜，不以己悲";做过班长，做</tspan><tspan x="191" dy="16.1">事责任心强，态度积极，有吃苦精神，喜欢关</tspan><tspan x="191" dy="16.1">心他人，却又不知道方式，易与他人发生摩擦</tspan><tspan x="191" dy="16.1">，而自己却不知道，而且不善于表达自己的情</tspan><tspan x="191" dy="16.1">感。</tspan></text></g>
<g id="n7-2-2"><rect class="b" x="423" y="5838" width="240" height="27" rx="4"/><text class="t" x="429" y="5855.5">第二步，自己职业发展的一个心理趋向。</text></g>
<g id="n7-2-2-1"><rect class="b" x="135" y="5766" width="265" height="43" rx="4"/><text class="t" x="141" y="5783.5"><tspan x="141">个人因素对职业选择的影响，也就是性格和兴</tspan><tspan x="141" dy="16.1">趣，其次才是经济上的条件。</tspan></text></g>
<g id="n7-2-2-2"><rect class="b" x="254" y="5838" width="146" height="27" rx="4"/><text class="t" x="260" y="5855.5">1、我的兴趣在于文体。</text></g>
<g id="n7-2-2-3"><rect class="b" x="135" y="5894" width="265" height="43" rx="4"/><text class="t" x="141" y="5911.5"><tspan x="141">2、性格特点在于做事责任心强，态度积极认</tspan><tspan x="141" dy="16.1">真，能有吃苦精神。</tspan></text></g>
<g id="n7-3"><rect class="b" x="687" y="6116" width="265" height="43" rx="4"/><text class="t" x="693" y="6133.5"><tspan x="693">在道福测试的结果中根据我的职业偏好编码，</tspan><tspan x="693" dy="16.1">与之相接近的职业兴趣类型如下所列：</tspan></text></g>
<g id="n7-3-1"><rect class="b" x="398" y="5967" width="265" height="75" rx="4"/><text class="t" x="404" y="5984.5"><tspan x="404">理发师、裁判员、政府行政管理员、财政系统</tspan><tspan x="404" dy="16.1">工作人员、工程管理人员、职业病防治员、售</tspan><tspan x="404" dy="16.1">货员、商业经理、办公室主任、人事负责人、</tspan><tspan x="404" dy="16.1">调度员。</tspan></text></g>
<g id="n7-3-2"><rect class="b" x="398" y="6070" width="265" height="44" rx="4"/><text class="t" x="404" y="6087.5"><tspan x="404">我想，根据我的兴趣和性格我会选择政府行政</tspan><tspan x="404" dy="16.1">管理人员或更准确的说是政府行政工作人员。</tspan></text></g>
<g id="n7-3-3"><rect class="b" x="506" y="6167" width="157" height="27" rx="4"/><text class="t" x="512" y="6184.5">第三步，自己可以做什么?</text></g>
<g id="n7-3-3-1"><rect class="b" x="218" y="6143" width="264" height="76" rx="4"/><text class="t" x="224" y="6160.5"><tspan x="224">我学的是物理专业，加之有一定的文学功底，</tspan><tspan x="224" dy="16.1">和同学的合作、相处的非常愉快。有过暑期打</tspan><tspan x="224" dy="16.1">工的经验。所以，我相信，通过短时间的适应</tspan><tspan x="224" dy="16.1">，我会很快适应工作的。</tspan></text></g>
<g id="n7-3-4"><rect class="b" x="398" y="6248" width="265" height="43" rx="4"/><text class="t" x="404" y="6265.5"><tspan x="404">第四步，根据这样的选择，长远的规划是如何</tspan><tspan x="404" dy="16.1">的?</tspan></text></g>
<g id="n7-4"><rect class="b" x="712" y="6429" width="240" height="27" rx="4"/><text class="t" x="718" y="6446.5">我把以后工作的阶段分为以下几个步骤：</text></g>
<g id="n7-4-1"><rect class="b" x="423" y="6320" width="265" height="124" rx="4"/><text class="t" x="429" y="6337.5"><tspan x="429">新手阶段：要学会自己做事、被同事接受、学</tspan><tspan x="429" dy="16.1">会面对失败、处理混乱和竞争、处理工作上的</tspan><tspan x="429" dy="16.1">冲突、学习自主。在这个阶段的主要目标是了</tspan><tspan x="429" dy="16.1">解单位、熟悉操作流程，接受组织文化，学会</tspan><tspan x="429" dy="16.1">与人相处，并且承担责任、发展和展示技能和</tspan><tspan x="429" dy="16.1">专长，迎接工作的挑战性、在某个领域形成技</tspan><tspan x="429" dy="16.1">能、开发创造力和革新精神。</tspan></text></g>
<g id="n7-4-2"><rect class="b" x="423" y="6473" width="265" height="59" rx="4"/><text class="t" x="429" y="6490.5"><tspan x="429">根据自身的才干和价值观和组织中的机会和约</tspan><tspan x="429" dy="16.1">束，生涯设计如果不合适，可以重新评估选择</tspan><tspan x="429" dy="16.1">，决定去留。</tspan></text></g>

<g id="n10-1"><rect class="b" x="678" y="6999" width="265" height="44" rx="4"/><text class="t" x="684" y="7016.5"><tspan x="684">在即将进入社会工作之际，我对自己个人的职</tspan><tspan x="684" dy="16.1">业生涯做了一个简单的规划：</tspan></text></g>
<g id="n10-1-1"><rect class="b" x="389" y="6562" width="265" height="238" rx="4"/><text class="t" x="395" y="6579.5"><tspan x="395">在定岗见习过程中刻苦学习，了解单位的发展</tspan><tspan x="395" dy="16.1">现状，并将个人发展与单位发展结合在一起，</tspan><tspan x="395" dy="16.1">储备实际生产和工作中的知识，加强个人学习</tspan><tspan x="395" dy="16.1">，将理论知识与实际生产良好地结合在一起，</tspan><tspan x="395" dy="16.1">确保自己如期转正并成为一名合格的助理工程</tspan><tspan x="395" dy="16.1">师。由于转修的液压专业在学校中接触较少，</tspan><tspan x="395" dy="16.1">知识储备量远远不够，在公司安排了为期一周</tspan><tspan x="395" dy="16.1">的液压专业技术培训后，对液压产生了极大的</tspan><tspan x="395" dy="16.1">兴趣，培训结束后认真温习了书中的各个知识</tspan><tspan x="395" dy="16.1">点。但由于缺乏实际的工作能力和良好的空间</tspan><tspan x="395" dy="16.1">想象力，对很多问题的理解较为困难和浅显，</tspan><tspan x="395" dy="16.1">遇到了学习过程中的瓶颈，在投入实际工作中</tspan><tspan x="395" dy="16.1">后，会结合生产继续学习并认真向师傅们请教</tspan><tspan x="395" dy="16.1">。</tspan></text></g>
<g id="n10-1-2"><rect class="b" x="389" y="6829" width="265" height="238" rx="4"/><text class="t" x="395" y="6846.5"><tspan x="395">我的发展目标是专业技术岗位，希望在转正后</tspan><tspan x="395" dy="16.1">的工作中创造自己的工作价值，发展路线是边</tspan><tspan x="395" dy="16.1">工作边学习，从基层做起，认真学习本岗位的</tspan><tspan x="395" dy="16.1">专业技术知识，积累工作经验，良好地利用个</tspan><tspan x="395" dy="16.1">人优势，尽快成长为一名合格的工程技术人员</tspan><tspan x="395" dy="16.1">。不忘大学所学焊接专业的知识，并能将其作</tspan><tspan x="395" dy="16.1">为在日后液压学习和深造过程中的优势和辅助</tspan><tspan x="395" dy="16.1">力量，拓宽自己的知识面，深入学习本职工作</tspan><tspan x="395" dy="16.1">所需知识。坚持个人发展与公司发展不能分离</tspan><tspan x="395" dy="16.1">的原则，在定岗转正后制定符合单位发展的个</tspan><tspan x="395" dy="16.1">人成长计划，保持良好的工作和学习状态，不</tspan><tspan x="395" dy="16.1">急躁不漂浮，按部就班地实施每一步计划。克</tspan><tspan x="395" dy="16.1">服自身缺陷，扎实打好专业基础，在实际生产</tspan><tspan x="395" dy="16.1">中奉献成长。</tspan></text></g>
<g id="n10-1-3"><rect class="b" x="437" y="7348" width="217" height="27" rx="4"/><text class="t" x="443" y="7365.5">个人职业规划书最新10篇相关文章：</text></g>
<g id="a1"><rect class="b" x="195" y="7096" width="218" height="27" rx="4"/><text class="t" x="201" y="7113.5">★ 2022万能个人工作计划模板(10篇)</text></g>
<g id="a2"><rect class="b" x="173" y="7152" width="240" height="27" rx="4"/><text class="t" x="179" y="7169.5">★ 2022年大学生职业生涯规划计划书5篇</text></g>
<g id="a3"><rect class="b" x="221" y="7208" width="192" height="27" rx="4"/><text class="t" x="227" y="7225.5">★ 简短的个人工作计划范文10篇</text></g>
<g id="a4"><rect class="b" x="183" y="7264" width="230" height="27" rx="4"/><text class="t" x="189" y="7281.5">★ 个人工作计划和目标怎么写范文10篇</text></g>
<g id="a5"><rect class="b" x="173" y="7319" width="240" height="27" rx="4"/><text class="t" x="179" y="7336.5">★ 2022大学生个人未来职业规划范文5篇</text></g>
<g id="a6"><rect class="b" x="246" y="7375" width="167" height="27" rx="4"/><text class="t" x="252" y="7392.5">★ 个人今后的工作计划10篇</text></g>
<g id="a7"><rect class="b" x="173" y="7431" width="240" height="27" rx="4"/><text class="t" x="179" y="7448.5">★ 普通员工个人工作计划和目标范文十篇</text></g>
<g id="a8"><rect class="b" x="173" y="7487" width="240" height="27" rx="4"/><text class="t" x="179" y="7504.5">★ 2022年大学生个人职业生涯规划书5篇</text></g>
<g id="a9"><rect class="b" x="197" y="7543" width="216" height="27" rx="4"/><text class="t" x="203" y="7560.5">★ 大学生个人毕业职业生涯规划范文</text></g>
<g id="a10"><rect class="b" x="208" y="7598" width="205" height="27" rx="4"/><text class="t" x="214" y="7615.5">★ 大学生职业生涯规划书【10篇】</text></g>

<g id="n2-1"><rect class="b" x="1726" y="2452" width="79" height="26" rx="4"/><text class="t" x="1732" y="2469.5">(1)出生背景</text></g>
<g id="n2-1-1"><rect class="b" x="1829" y="2354" width="264" height="223" rx="4"/><text class="t" x="1835" y="2371.5"><tspan x="1835">我来自中国的靠东南沿海的内地省份，出生在</tspan><tspan x="1835" dy="16.1">一个相对比较落后的小县城里，虽然家乡的经</tspan><tspan x="1835" dy="16.1">济不是很发达，但由于周边都是沿海的省份，</tspan><tspan x="1835" dy="16.1">还是感觉到了改革开放30年对中国产生的巨</tspan><tspan x="1835" dy="16.1">大影响。在思想上虽然不是特潮流的那种，但</tspan><tspan x="1835" dy="16.1">是对于新生事物的基本可以接受。家里的条件</tspan><tspan x="1835" dy="16.1">在小县城里来说还算过得去，所以在小时候并</tspan><tspan x="1835" dy="16.1">没有吃过多少苦。我知道如果进入社会之后我</tspan><tspan x="1835" dy="16.1">这样的经历是远远不够的，社会是复杂的，对</tspan><tspan x="1835" dy="16.1">于我们这些大学生来说要各种经历都要去尝试</tspan><tspan x="1835" dy="16.1">的。所以我希望在接下来的三年时间里能够锻</tspan><tspan x="1835" dy="16.1">炼自己，加强自己的独立生存能力，和自我解</tspan><tspan x="1835" dy="16.1">决问题的能力。</tspan></text></g>
<g id="n2-2"><rect class="b" x="1726" y="2727" width="91" height="26" rx="4"/><text class="t" x="1732" y="2744.5">(2)性格与能力</text></g>
<g id="n2-2-1"><rect class="b" x="1842" y="2604" width="264" height="142" rx="4"/><text class="t" x="1848" y="2621.5"><tspan x="1848">我的性格并不是那种外向类型，很多东西我都</tspan><tspan x="1848" dy="16.1">愿意自己一个人体会与经历，有时候会把自己</tspan><tspan x="1848" dy="16.1">排除在集体之外。还有我并不喜欢和别人交流</tspan><tspan x="1848" dy="16.1">，也很难接受别人的意见，比较独断独行。对</tspan><tspan x="1848" dy="16.1">一些事物有时候就是三分钟的热情，有些时候</tspan><tspan x="1848" dy="16.1">不能坚持自己最初定下的目标。但我有一种不</tspan><tspan x="1848" dy="16.1">服输的性格，每一次的成功都会给我带来巨大</tspan><tspan x="1848" dy="16.1">的动力，我喜欢超越周围的人。</tspan></text></g>
<g id="n2-2-2"><rect class="b" x="1842" y="2774" width="264" height="60" rx="4"/><text class="t" x="1848" y="2791.5"><tspan x="1848">我虽然有时候做事丢三落四，但我在关键时刻</tspan><tspan x="1848" dy="16.1">能够打起的精神。还有我喜欢帮助周围的人，</tspan><tspan x="1848" dy="16.1">并不计较目前的得失，能够把目光放在远方。</tspan></text></g>

<g id="n4-1"><rect class="b" x="1726" y="2862" width="264" height="109" rx="4"/><text class="t" x="1732" y="2879.5"><tspan x="1732">记得高中时老师就告诉我们要认识自己，"认</tspan><tspan x="1732" dy="16.1">识自己"，仅仅四个字，实践起来是何等的艰</tspan><tspan x="1732" dy="16.1">难，古往今来那么多仁人志士为了能认识自己</tspan><tspan x="1732" dy="16.1">，不断实践，不断创新，可又有几个能在生命</tspan><tspan x="1732" dy="16.1">即将终了之时，拍拍胸膛，告诉自己，我终于</tspan><tspan x="1732" dy="16.1">认清了自己!</tspan></text></g>
<g id="n4-2"><rect class="b" x="1726" y="3000" width="264" height="44" rx="4"/><text class="t" x="1732" y="3017.5"><tspan x="1732">但经过一年的思考，终归是比一年前要对自己</tspan><tspan x="1732" dy="16.1">有更深一些的了解。</tspan></text></g>
<g id="n4-3"><rect class="b" x="1726" y="3072" width="264" height="190" rx="4"/><text class="t" x="1732" y="3089.5"><tspan x="1732">首先，我的性格属于双层的，有时候活泼开朗</tspan><tspan x="1732" dy="16.1">，有时候又很安静内敛，但是这两种性格的转</tspan><tspan x="1732" dy="16.1">换总是不适时宜的出现，由此我觉得应该加强</tspan><tspan x="1732" dy="16.1">自我对自身性格的控制，是这两种性格出现的</tspan><tspan x="1732" dy="16.1">恰到好处，这就需要从小事做起，例在竞选和</tspan><tspan x="1732" dy="16.1">社交的方面就要当仁不让，要活泼一些;在读</tspan><tspan x="1732" dy="16.1">书，听课的时候就应该控制自己要安静下来。</tspan><tspan x="1732" dy="16.1">我觉得自身有一些成功需要的必备品质，如强</tspan><tspan x="1732" dy="16.1">烈的竞争意识，不达目的不罢休的坚持，不到</tspan><tspan x="1732" dy="16.1">黄河心不死的决心等。这些都是需要在今后的</tspan><tspan x="1732" dy="16.1">道路上保持和增强的。</tspan></text></g>
<g id="n4-4"><rect class="b" x="1726" y="3289" width="264" height="159" rx="4"/><text class="t" x="1732" y="3306.5"><tspan x="1732">其次，我的兴趣很广泛。我非常喜欢读书，但</tspan><tspan x="1732" dy="16.1">迫于学习压力，涉猎面很狭窄，基本上只看教</tspan><tspan x="1732" dy="16.1">材，所以今后我需要多看一些经济、管理、文</tspan><tspan x="1732" dy="16.1">学、保险方面的书籍，以扩充自己的涉猎面;</tspan><tspan x="1732" dy="16.1">会很多种球类运动，虽然不是专业水平，但是</tspan><tspan x="1732" dy="16.1">作为娱乐还是很受用的，因此可以通过这些运</tspan><tspan x="1732" dy="16.1">动多认识一些朋友，以扩大自己的交友范围;</tspan><tspan x="1732" dy="16.1">小时候学过很多种乐器，还有书法、绘画等…</tspan><tspan x="1732" dy="16.1">…</tspan></text></g>
<g id="n4-5"><rect class="b" x="1726" y="3476" width="264" height="125" rx="4"/><text class="t" x="1732" y="3493.5"><tspan x="1732">最后，我想对我三年后想拥有的能力做一个期</tspan><tspan x="1732" dy="16.1">望，因为我认为我现在的水平并不能够达到我</tspan><tspan x="1732" dy="16.1">未来想从事的职业的标准，但是通过三年的努</tspan><tspan x="1732" dy="16.1">力，我一定能实现目标。三年后，我应该精通</tspan><tspan x="1732" dy="16.1">经济类方面的专业英语，有一口流利的口语，</tspan><tspan x="1732" dy="16.1">专业的数学、经济、保险精算、计算机等方面</tspan><tspan x="1732" dy="16.1">的技能，有一定的社交能力和管理能力。</tspan></text></g>

<g id="n6-1"><rect class="b" x="1726" y="3719" width="63" height="26" rx="4"/><text class="t" x="1732" y="3736.5">一、前言</text></g>
<g id="n6-1-1"><rect class="b" x="1813" y="3630" width="265" height="206" rx="4"/><text class="t" x="1819" y="3647.5"><tspan x="1819">在今天这个人才竞争的时代，职业生涯规划开</tspan><tspan x="1819" dy="16.1">始成为在人争夺战中的另一重要利器。对企业</tspan><tspan x="1819" dy="16.1">而言，如何体现公司"以人为本"的人才理念，</tspan><tspan x="1819" dy="16.1">关注员工的人才理念，关注员工的持续成长，</tspan><tspan x="1819" dy="16.1">职业生涯规划是一种有效的手段;而对每个人</tspan><tspan x="1819" dy="16.1">而言，职业生命是有限的，如果不进行有效的</tspan><tspan x="1819" dy="16.1">规划，势必会造成生命和时间的浪费。作为当</tspan><tspan x="1819" dy="16.1">代中专生，若是带着一脸茫然，踏入这个拥挤</tspan><tspan x="1819" dy="16.1">的社会怎能满足社会的需要，使自身占有一席</tspan><tspan x="1819" dy="16.1">之地?因此，我试着为自身拟定一份职业生涯</tspan><tspan x="1819" dy="16.1">规划，将自身的未来好好的设计一下。有了目</tspan><tspan x="1819" dy="16.1">标，才会有动力。</tspan></text></g>
<g id="n6-2"><rect class="b" x="1726" y="3937" width="88" height="27" rx="4"/><text class="t" x="1732" y="3954.5">二、自我认知</text></g>
<g id="n6-2-1"><rect class="b" x="1838" y="3865" width="265" height="173" rx="4"/><text class="t" x="1844" y="3882.5"><tspan x="1844">我是一个当代中专生，(平时)是家里的希望—</tspan><tspan x="1844" dy="16.1">—成为有用之才，性格外向、开朗、活泼，</tspan><tspan x="1844" dy="16.1">业余时间爱交友、听音乐、外出散步等。喜欢</tspan><tspan x="1844" dy="16.1">看小说、散文，尤其爱看杂志类的书籍，心中</tspan><tspan x="1844" dy="16.1">偶像是比尔·盖茨，平时与人友好相处，亲人</tspan><tspan x="1844" dy="16.1">、朋友、教师关爱，喜欢旅游，动手能力较强</tspan><tspan x="1844" dy="16.1">做事认真。当然本人自身仍存在一些缺点，这</tspan><tspan x="1844" dy="16.1">对于我今后的就业会产生不利影响。比如，学</tspan><tspan x="1844" dy="16.1">习缺乏恒心，努力程度不够，平常较少参加社</tspan><tspan x="1844" dy="16.1">会实践，社会实践经历少等。</tspan></text></g>
<g id="n6-3"><rect class="b" x="1726" y="4147" width="202" height="27" rx="4"/><text class="t" x="1732" y="4164.5">三、解决自我认知中的劣势和缺点</text></g>
<g id="n6-3-1"><rect class="b" x="1952" y="4140" width="264" height="42" rx="4"/><text class="t" x="1958" y="4157.5"><tspan x="1958">针对自身的不足和缺点，我准备从以下几方面</tspan><tspan x="1958" dy="16.1">克服我的缺点：</tspan></text></g>
<g id="n6-3-1-1"><rect class="b" x="2240" y="4066" width="266" height="44" rx="4"/><text class="t" x="2246" y="4083.5"><tspan x="2246">(1)阅读一些励志性的书籍，增强自身学习的</tspan><tspan x="2246" dy="16.1">毅力。</tspan></text></g>
<g id="n6-3-1-2"><rect class="b" x="2240" y="4139" width="266" height="43" rx="4"/><text class="t" x="2246" y="4156.5"><tspan x="2246">(2)向学习努力的同学取经，借鉴其学习方法</tspan><tspan x="2246" dy="16.1">。</tspan></text></g>
<g id="n6-3-1-3"><rect class="b" x="2240" y="4211" width="266" height="43" rx="4"/><text class="t" x="2246" y="4228.5"><tspan x="2246">(3)参加一些实践活动多的社团，既能结交志</tspan><tspan x="2246" dy="16.1">同道合的朋友，又能参加社会实践。</tspan></text></g>
<g id="n6-4"><rect class="b" x="1726" y="4356" width="140" height="27" rx="4"/><text class="t" x="1732" y="4373.5">四、未来人生职业规划</text></g>
<g id="n6-4-1"><rect class="b" x="1888" y="4339" width="266" height="61" rx="4"/><text class="t" x="1894" y="4356.5"><tspan x="1894">根据自身的兴趣和所学专业，在未来应该会向</tspan><tspan x="1894" dy="16.1">电子和计算机两方面发展。围绕这两个方面，</tspan><tspan x="1894" dy="16.1">本人特对未来作初步规划：</tspan></text></g>
<g id="n6-4-1-1"><rect class="b" x="2177" y="4283" width="265" height="77" rx="4"/><text class="t" x="2183" y="4300.5"><tspan x="2183">1、学业有成期：充分利用校园环境及条件优</tspan><tspan x="2183" dy="16.1">势，认真学好专业知识，培养学习、工作、生</tspan><tspan x="2183" dy="16.1">活能力，全面提高个人综合素质，并作为就业</tspan><tspan x="2183" dy="16.1">准备。</tspan></text></g>
<g id="n6-4-1-2"><rect class="b" x="2177" y="4387" width="265" height="61" rx="4"/><text class="t" x="2183" y="4404.5"><tspan x="2183">2、熟悉适应期：利用3年左右的时间，经过</tspan><tspan x="2183" dy="16.1">不断的尝试努力，初步找到合适自身发展的工</tspan><tspan x="2183" dy="16.1">作环境、岗位。</tspan></text></g>

<g id="n8-1"><rect class="b" x="1726" y="4476" width="264" height="77" rx="4"/><text class="t" x="1732" y="4493.5"><tspan x="1732">我是一个很平凡的本科生，但我并不甘于平凡</tspan><tspan x="1732" dy="16.1">。作为家里的孩子，出人头地当然是全家寄予</tspan><tspan x="1732" dy="16.1">我的希望，所以，自我踏进大学校门的那一刻</tspan><tspan x="1732" dy="16.1">起，我便决定，要向更高的地方前行。</tspan></text></g>
<g id="n8-2"><rect class="b" x="1726" y="4580" width="264" height="110" rx="4"/><text class="t" x="1732" y="4597.5"><tspan x="1732">我比较喜欢语言和文学等这一类的学科，未来</tspan><tspan x="1732" dy="16.1">应该会向这两个方面发展。当然,在这之前，</tspan><tspan x="1732" dy="16.1">我必须要历经一一个崭新的开始，那就是考研</tspan><tspan x="1732" dy="16.1">。在大学本科的四年里，首先要认真学好专业</tspan><tspan x="1732" dy="16.1">的知识，努力通过专四、专八的考试，顺利的</tspan><tspan x="1732" dy="16.1">毕业,拿到学士学位。</tspan></text></g>
<g id="n8-3"><rect class="b" x="1726" y="4718" width="264" height="125" rx="4"/><text class="t" x="1732" y="4735.5"><tspan x="1732">在大学的这几年，除了专业知识,还要全面拓</tspan><tspan x="1732" dy="16.1">展自己的个人素质。我计划在大学期间，考到</tspan><tspan x="1732" dy="16.1">导游资格证和教师资格证，并争取考过计算机</tspan><tspan x="1732" dy="16.1">二级。我相信，这些除专业之外认可，会为我</tspan><tspan x="1732" dy="16.1">的就业提供更广阔的道路，而我自己亦能从中</tspan><tspan x="1732" dy="16.1">获益不少。第二外语选修的是日语，我希望能</tspan><tspan x="1732" dy="16.1">学有所成。</tspan></text></g>
<g id="n8-4"><rect class="b" x="1726" y="4871" width="264" height="110" rx="4"/><text class="t" x="1732" y="4888.5"><tspan x="1732">在专修英语的同时，我也会努力学习日语，并</tspan><tspan x="1732" dy="16.1">计划通过日语的四级水平测试，如果我有能力</tspan><tspan x="1732" dy="16.1">，我会尝试去通过日语的二级水平测试。我考</tspan><tspan x="1732" dy="16.1">研的目标是中国传媒大学，并且我想跨专业考</tspan><tspan x="1732" dy="16.1">新闻传播学的研究生。这是我一直以来的梦想</tspan><tspan x="1732" dy="16.1">，并且我始终坚定不移地向着这个目标迈进。</tspan></text></g>
<g id="n8-5"><rect class="b" x="1726" y="5008" width="264" height="94" rx="4"/><text class="t" x="1732" y="5025.5"><tspan x="1732">所以,在大三的一年里，必须要全力准备，不</tspan><tspan x="1732" dy="16.1">丢下专业课程的同时要挤出时间学习新闻传播</tspan><tspan x="1732" dy="16.1">学。或者去新闻系听课或者是在图书馆借书自</tspan><tspan x="1732" dy="16.1">学，总之，为了这个目标，我会全力以赴。对</tspan><tspan x="1732" dy="16.1">于工作，我的理想是当一名记者。</tspan></text></g>
<g id="n8-6"><rect class="b" x="1726" y="5129" width="264" height="93" rx="4"/><text class="t" x="1732" y="5146.5"><tspan x="1732">有了前面的各种铺垫，我希望可以在一家影响</tspan><tspan x="1732" dy="16.1">较大的报社或者电视台工作。为此，我必须强</tspan><tspan x="1732" dy="16.1">化我的知识储备，不能有丝毫的放松。同时，</tspan><tspan x="1732" dy="16.1">也要发展良好的人际交往关系，加强与人沟通</tspan><tspan x="1732" dy="16.1">的能力，这是记者这一职业所必备的。</tspan></text></g>
<g id="n8-7"><rect class="b" x="1726" y="5250" width="264" height="109" rx="4"/><text class="t" x="1732" y="5267.5"><tspan x="1732">得到了工作，我会以满腔的热情如入其中，踏</tspan><tspan x="1732" dy="16.1">踏实实的贡献自己的力量。当然，我也会争取</tspan><tspan x="1732" dy="16.1">任何一个提升自己的机会，那是对自己的肯定</tspan><tspan x="1732" dy="16.1">也是对自己的又一新的挑战。我希望，以自己</tspan><tspan x="1732" dy="16.1">的辛勤工作为自己换取一个不会后悔的人生，</tspan><tspan x="1732" dy="16.1">使未来富有色彩与意义。</tspan></text></g>
<g id="n9"><rect class="b" x="1726" y="5979" width="134" height="27" rx="4"/><text class="t" x="1732" y="5996.5">个人职业规划书最新9</text></g>
<g id="n9-1"><rect class="b" x="1883" y="5388" width="265" height="76" rx="4"/><text class="t" x="1889" y="5405.5"><tspan x="1889">综合考虑自己的所学专业、兴趣爱好、个人特</tspan><tspan x="1889" dy="16.1">长以及某某单位的性质、宗旨和工作要求，围</tspan><tspan x="1889" dy="16.1">绕可能的职业发展道路，本人对未来30年左</tspan><tspan x="1889" dy="16.1">右在某某单位的工作做出如下规划与安排。</tspan></text></g>
<g id="n9-2"><rect class="b" x="1883" y="5493" width="75" height="26" rx="4"/><text class="t" x="1889" y="5510.5">熟悉适应期</text></g>
<g id="n9-3"><rect class="b" x="1883" y="5548" width="265" height="27" rx="4"/><text class="t" x="1889" y="5565.5">目标：使自己尽快融入到某某单位的工作中去</text></g>
<g id="n9-4"><rect class="b" x="1883" y="5604" width="265" height="109" rx="4"/><text class="t" x="1889" y="5621.5"><tspan x="1889">1.充分利用某某单位优越的工作环境和研究条</tspan><tspan x="1889" dy="16.1">件，认真学习与民航业相关的法律法规、方针</tspan><tspan x="1889" dy="16.1">政策以及民航业的发展现状，能够在一年的时</tspan><tspan x="1889" dy="16.1">间内，通过对资料、书籍的阅读和向领导与同</tspan><tspan x="1889" dy="16.1">事请教，积累起民航业研究所必需的知识和研</tspan><tspan x="1889" dy="16.1">究方法。</tspan></text></g>
<g id="n9-5"><rect class="b" x="1883" y="5741" width="265" height="60" rx="4"/><text class="t" x="1889" y="5758.5"><tspan x="1889">2.培养分析判断能力、组织管理能力等实际工</tspan><tspan x="1889" dy="16.1">作能力，全面提高自己的综合素质和业务水平</tspan><tspan x="1889" dy="16.1">。</tspan></text></g>
<g id="n9-6"><rect class="b" x="1883" y="5837" width="265" height="78" rx="4"/><text class="t" x="1889" y="5854.5"><tspan x="1889">3.深入到基层、实际和"一线"进行调查研究，</tspan><tspan x="1889" dy="16.1">对民航业的整体现状、存在的突出问题有一个</tspan><tspan x="1889" dy="16.1">感性的认识和把握，能够使用理论对实际问题</tspan><tspan x="1889" dy="16.1">进行分析。</tspan></text></g>
<g id="n9-6-1"><rect class="b" x="2172" y="5830" width="75" height="27" rx="4"/><text class="t" x="2178" y="5847.5">快速提升期</text></g>
<g id="n9-6-2"><rect class="b" x="2172" y="5885" width="265" height="45" rx="4"/><text class="t" x="2178" y="5902.5"><tspan x="2178">目标：使自己成为一个领导放心、同事舒心、</tspan><tspan x="2178" dy="16.1">自己安心的好人</tspan></text></g>
<g id="n9-7"><rect class="b" x="1883" y="5958" width="265" height="93" rx="4"/><text class="t" x="1889" y="5975.5"><tspan x="1889">1.安下心来，认认真真的学习、工作、调查、</tspan><tspan x="1889" dy="16.1">探讨和研究，通过多种形式的相互补充与促进</tspan><tspan x="1889" dy="16.1">，真正把整个民航业的发展现状、未来趋势、</tspan><tspan x="1889" dy="16.1">突出问题以及对策措施等方面的知识吃透、弄</tspan><tspan x="1889" dy="16.1">懂。</tspan></text></g>
<g id="n9-8"><rect class="b" x="1883" y="6079" width="265" height="93" rx="4"/><text class="t" x="1889" y="6096.5"><tspan x="1889">2.吸取工作中的经验教训，做好除科学研究以</tspan><tspan x="1889" dy="16.1">外的其他工作，不断培养自己的组织能力、管</tspan><tspan x="1889" dy="16.1">理能力、表达能力、抗压能力、社交能力等实</tspan><tspan x="1889" dy="16.1">际工作所需要的各方面素质与技能，全面提高</tspan><tspan x="1889" dy="16.1">自己的职业素养与综合能力。</tspan></text></g>
<g id="n9-9"><rect class="b" x="1883" y="6216" width="265" height="60" rx="4"/><text class="t" x="1889" y="6233.5"><tspan x="1889">3.不断提高自身修养，总结自己的优点和长处</tspan><tspan x="1889" dy="16.1">，反省自己的缺点与不足，使自己成为一个诚</tspan><tspan x="1889" dy="16.1">实、善良、正直、谦逊、务实的好人。</tspan></text></g>
<g id="n9-9-1"><rect class="b" x="2172" y="6201" width="75" height="27" rx="4"/><text class="t" x="2178" y="6218.5">稳步发展期</text></g>
<g id="n9-9-2"><rect class="b" x="2172" y="6256" width="265" height="45" rx="4"/><text class="t" x="2178" y="6273.5"><tspan x="2178">目标：使自己成为单位的骨干分子，在业界有</tspan><tspan x="2178" dy="16.1">一定的知名度和影响力。</tspan></text></g>
<g id="n9-10"><rect class="b" x="1883" y="6329" width="265" height="76" rx="4"/><text class="t" x="1889" y="6346.5"><tspan x="1889">1.要继续做好自己的科学研究工作和本职工作</tspan><tspan x="1889" dy="16.1">，不放松对自己的研究和工作的标准与要求，</tspan><tspan x="1889" dy="16.1">对一些涉及民航行业发展的重点和难点问题能</tspan><tspan x="1889" dy="16.1">够提出切实可行的政策建议与对策措施。</tspan></text></g>
<g id="n9-11"><rect class="b" x="1883" y="6433" width="265" height="61" rx="4"/><text class="t" x="1889" y="6450.5"><tspan x="1889">2.在工作中要不断吸取经验教训，提高自己的</tspan><tspan x="1889" dy="16.1">组织管理能力与综合素质，以状态投入到工作</tspan><tspan x="1889" dy="16.1">中去，使自己成为单位的'骨干分子。</tspan></text></g>
<g id="n9-12"><rect class="b" x="1883" y="6521" width="265" height="77" rx="4"/><text class="t" x="1889" y="6538.5"><tspan x="1889">3.与亲人、同事、领导和谐相处，实现自己与</tspan><tspan x="1889" dy="16.1">家庭、单位和社会圈子的完美和谐，为自己创</tspan><tspan x="1889" dy="16.1">造良好、友善、和谐的工作环境和社会氛围，</tspan><tspan x="1889" dy="16.1">促进自己各项工作及事业的顺利开展。</tspan></text></g>
</g>
</svg>
